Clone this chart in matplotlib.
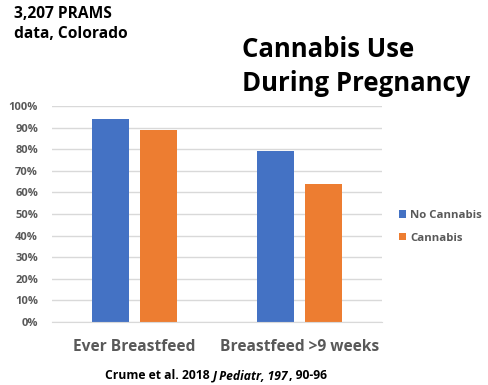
import matplotlib
matplotlib.use("Agg")
import matplotlib.pyplot as plt
import numpy as np

categories = ["Ever Breastfeed", "Breastfeed >9 weeks"]
series_names = ["No Cannabis", "Cannabis"]
no_cannabis = [0.94, 0.79]
cannabis = [0.89, 0.64]
y_ticks = [0.0, 0.1, 0.2, 0.3, 0.4, 0.5, 0.6, 0.7, 0.8, 0.9, 1.0]

BLUE = "#4472C4"
ORANGE = "#ED7D31"
GRAY = "#595959"
FONT = ["Open Sans", "DejaVu Sans"]

plt.rcParams["font.family"] = FONT

fig = plt.figure(figsize=(4.88, 3.85), dpi=100)
ax = fig.add_axes([52 / 488, 1 - 322 / 385, 330 / 488, 216 / 385])

x = np.arange(len(categories))
w = 0.225
ax.bar(x - 0.143, no_cannabis, w, color=BLUE, label=series_names[0], zorder=3)
ax.bar(x + 0.143, cannabis, w, color=ORANGE, label=series_names[1], zorder=3)

ax.set_xlim(-0.5, 1.5)
ax.set_ylim(0, 1.0)
ax.set_yticks(y_ticks)
ax.set_yticklabels([f"{int(round(t * 100))}%" for t in y_ticks],
                   fontsize=8, fontweight="bold", color=GRAY)
ax.tick_params(axis="both", length=0)
ax.set_xticks(x)
ax.set_xticklabels(categories, fontsize=11.2, fontweight="bold", color=GRAY)
ax.tick_params(axis="x", pad=12)
ax.tick_params(axis="y", pad=10)
ax.grid(axis="y", color="#D9D9D9", linewidth=1, zorder=0)
for s in ["top", "right", "left"]:
    ax.spines[s].set_visible(False)
ax.spines["bottom"].set_color("#D9D9D9")
ax.spines["bottom"].set_zorder(4)

leg = ax.legend(loc="center left", bbox_to_anchor=(1.02, 0.44), frameon=False,
                prop={"family": FONT, "weight": "bold", "size": 8.2},
                handlelength=0.65, handleheight=0.65, handletextpad=0.35,
                labelspacing=1.0)
for t in leg.get_texts():
    t.set_color(GRAY)

fig.text(14 / 488, 1 - 6 / 385, "3,207 PRAMS\ndata, Colorado", ha="left", va="top",
         fontsize=11.2, fontweight="bold", color="black", linespacing=1.3)
fig.text(242 / 488, 1 - 36 / 385, "Cannabis Use\nDuring Pregnancy", ha="left", va="top",
         fontsize=18.5, fontweight="bold", color="black", linespacing=1.32)

# citation with italic journal name and volume
base_y = 1 - 379 / 385
t1 = fig.text(105 / 488, base_y, "Crume et al. 2018", ha="left", va="baseline",
              fontsize=8.7, fontweight="bold", color="black")
t2 = fig.text(0, base_y, "J Pediatr, 197", fontsize=8.7, fontweight="bold", style="italic",
              color="black", va="baseline", ha="left")
t3 = fig.text(0, base_y, ", 90-96", fontsize=8.7, fontweight="bold", color="black",
              va="baseline", ha="left")
fig.canvas.draw()
r = fig.canvas.get_renderer()
bb1 = t1.get_window_extent(r)
t2.set_x((bb1.x1 + 3) / fig.bbox.width)
bb2 = t2.get_window_extent(r)
t3.set_x((bb2.x1 + 0.5) / fig.bbox.width)

fig.savefig("out.png", dpi=100)
